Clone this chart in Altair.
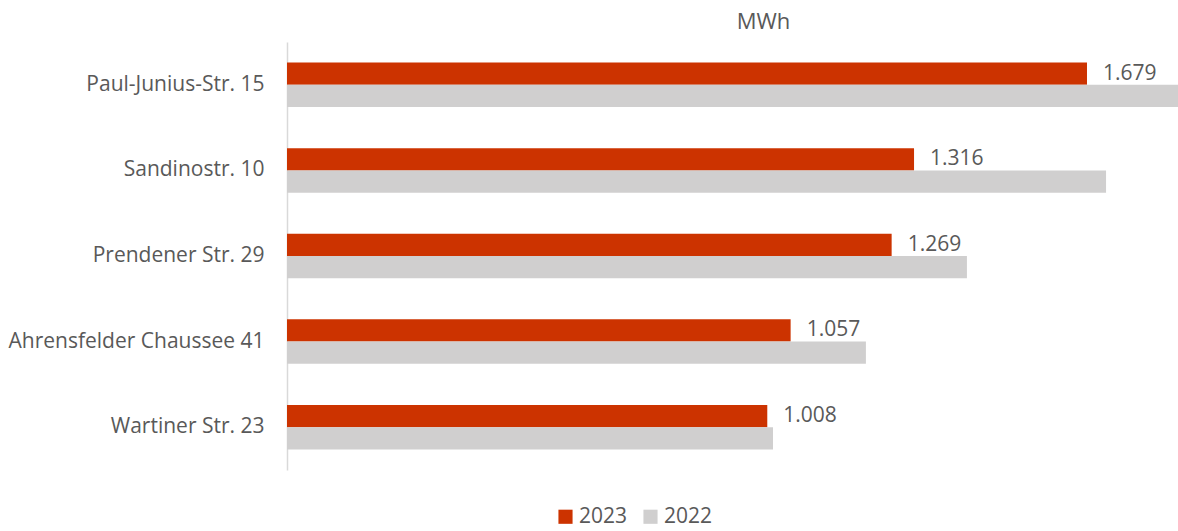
import altair as alt
import pandas as pd

categories = ["Paul-Junius-Str. 15", "Sandinostr. 10", "Prendener Str. 29",
              "Ahrensfelder Chaussee 41", "Wartiner Str. 23"]
values_2023 = [1679, 1316, 1269, 1057, 1008]
values_2022 = [1870, 1719, 1427, 1215, 1020]
years = ["2023", "2022"]

rows = []
for c, a, b in zip(categories, values_2023, values_2022):
    rows.append({"cat": c, "year": "2023", "v": a, "lbl": f"{a:,}".replace(",", ".")})
    rows.append({"cat": c, "year": "2022", "v": b, "lbl": ""})
df = pd.DataFrame(rows)

FONT = "Open Sans"
TXT = "#595959"
FS = 21

base = alt.Chart(df).encode(
    y=alt.Y("cat:N", sort=categories, title=None,
            scale=alt.Scale(paddingInner=0.48, paddingOuter=0.24),
            axis=alt.Axis(ticks=False, domainColor="#D9D9D9", domainWidth=1.5,
                          labelFontSize=FS, labelColor=TXT, labelFont=FONT,
                          labelPadding=23, labelLimit=400)),
    yOffset=alt.YOffset("year:N", sort=years),
)

bars = base.mark_bar().encode(
    x=alt.X("v:Q", scale=alt.Scale(domain=[0, 1870], nice=False), axis=None),
    color=alt.Color("year:N", scale=alt.Scale(domain=years, range=["#CC3300", "#D0CFCF"]),
                    legend=alt.Legend(title=None, orient="none", legendX=268, legendY=464,
                                      direction="horizontal", symbolType="square",
                                      symbolSize=200, symbolStrokeWidth=0,
                                      labelFontSize=FS, labelColor=TXT, labelFont=FONT,
                                      columnPadding=12, labelOffset=3)),
)

labels = base.transform_filter(alt.datum.year == "2023").mark_text(
    align="left", baseline="middle", dx=16, fontSize=FS, color=TXT, font=FONT
).encode(x="v:Q", text="lbl:N")

chart = (bars + labels).properties(
    width=891, height=428,
    title=alt.TitleParams("MWh", fontSize=22, color=TXT, font=FONT, fontWeight="normal",
                          anchor="middle", dx=31, offset=8),
    padding={"left": 287, "top": 42, "right": 0, "bottom": 61},
    autosize=alt.AutoSizeParams(type="none"),
).configure_view(stroke=None)

chart.save("out.html", embed_options={"renderer": "svg", "actions": False})
